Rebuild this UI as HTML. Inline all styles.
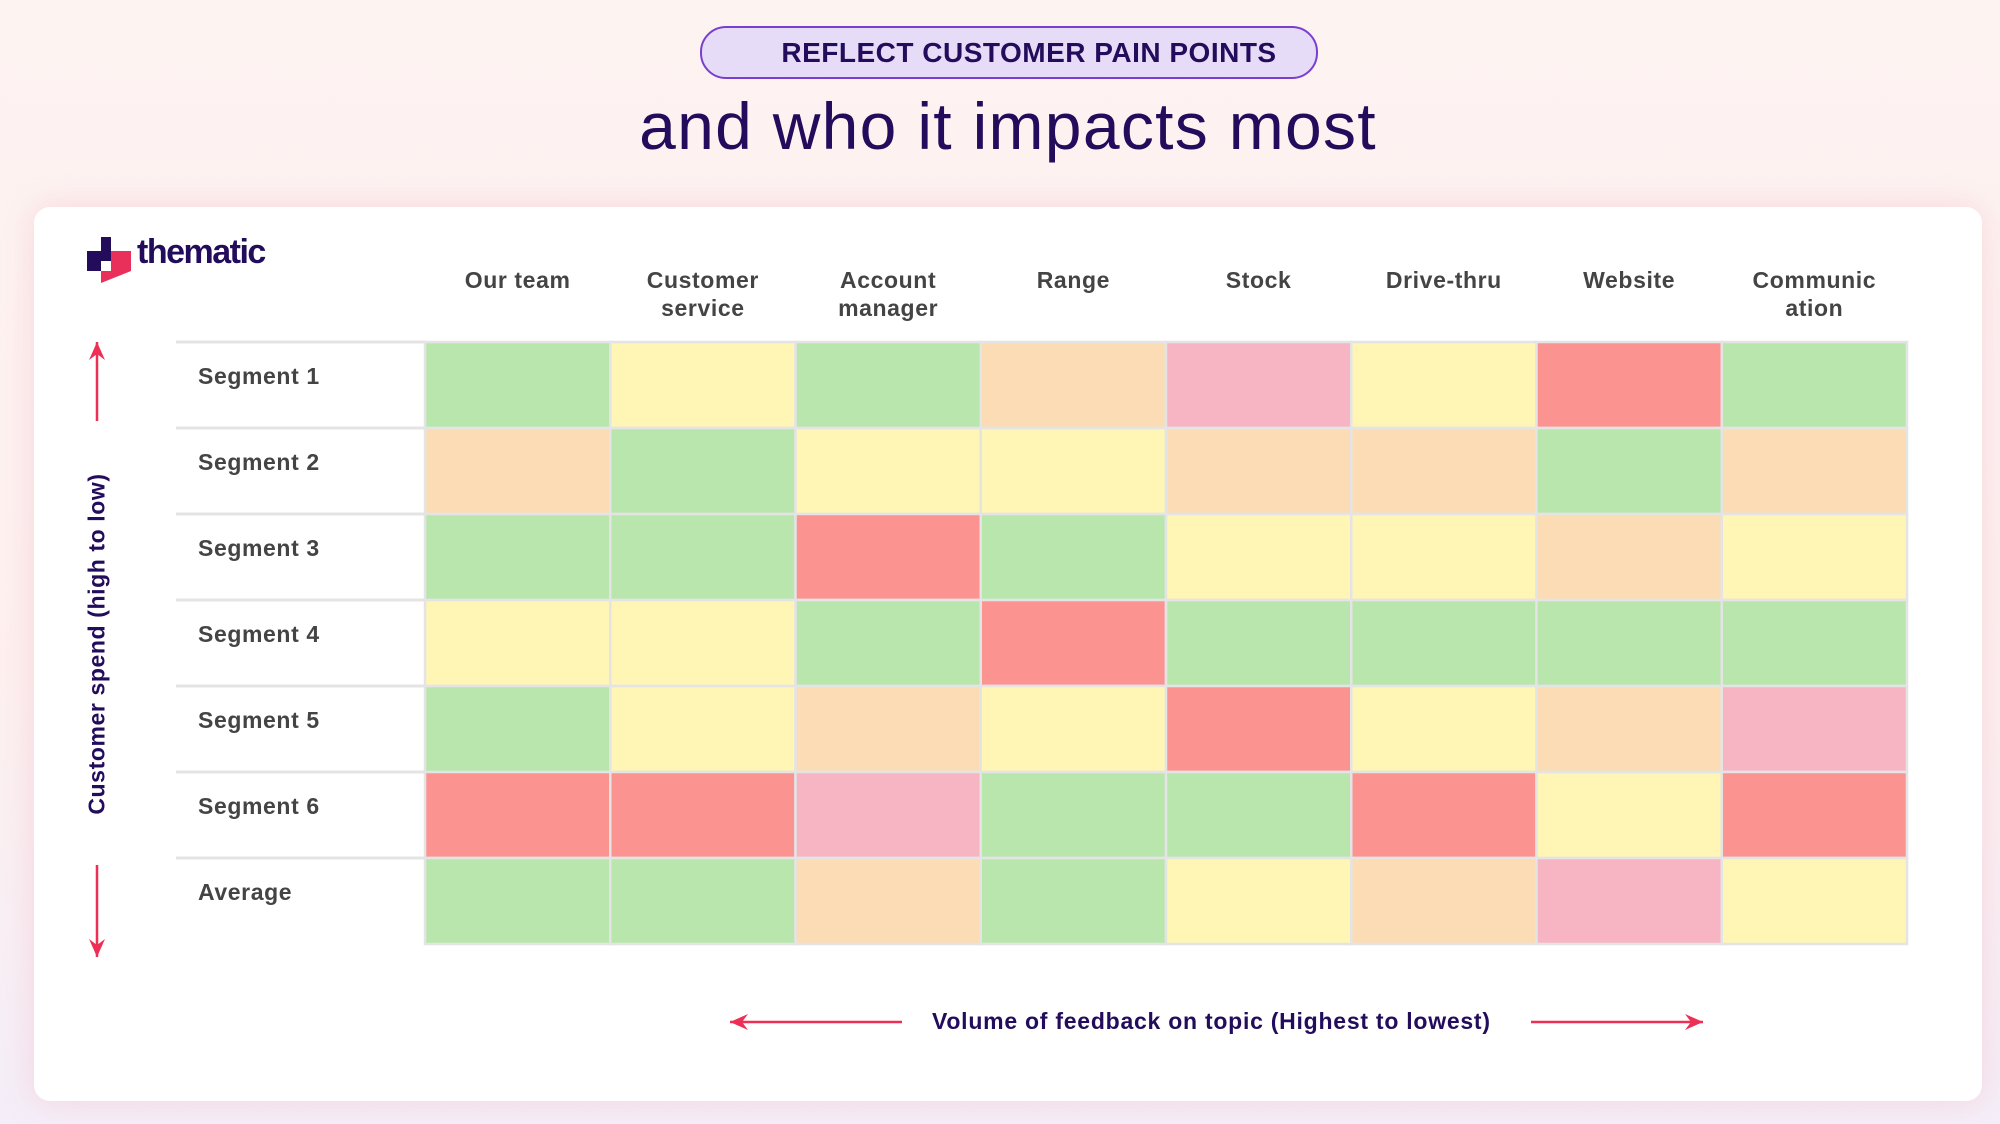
<!DOCTYPE html>
<html><head><meta charset="utf-8"><style>
html,body{margin:0;padding:0}
body{width:2000px;height:1124px;position:relative;overflow:hidden;font-family:"Liberation Sans",sans-serif;background:linear-gradient(180deg,#fdf3f1 0%,#fdf0ef 60%,#f4eef8 100%)}
.pill{position:absolute;left:700px;top:26px;width:614px;height:49px;border:2px solid #7a3fd0;border-radius:26px;background:#e6dcf7;color:#230c5c;font-weight:bold;font-size:28px;text-align:center;line-height:49px;letter-spacing:0.5px;box-sizing:content-box}
.pill span{position:relative;left:20px}
.head{position:absolute;left:0;width:2016px;top:88px;text-align:center;font-size:66px;color:#230c5c;letter-spacing:1.3px}
.card{position:absolute;left:34px;top:207px;width:1948px;height:894px;background:#fff;border-radius:16px;box-shadow:0 0 30px rgba(245,180,195,0.45)}
.logo{position:absolute;left:87px;top:237px}
.logo span{position:absolute;left:50px;top:-4px;font-size:34px;font-weight:bold;color:#230c5c;letter-spacing:-1.5px}
.ylab{position:absolute;left:97px;top:644px;transform:translate(-50%,-50%) rotate(-90deg);font-size:23px;font-weight:bold;color:#230c5c;white-space:nowrap;letter-spacing:0.6px}
.xlab{position:absolute;left:932px;top:1008px;font-size:23px;font-weight:bold;color:#230c5c;white-space:nowrap;letter-spacing:0.75px}
</style></head><body>
<div class="pill"><span>REFLECT CUSTOMER PAIN POINTS</span></div>
<div class="head">and who it impacts most</div>
<div class="card"></div>
<div class="logo">
<svg width="46" height="48" viewBox="0 0 46 48"><polygon points="0,14 14,14 14,0 24,0 24,14 24,24 14,24 14,34 0,34" fill="#230c5c"/><polygon points="24,14 44,14 44,34 14,46 14,34 24,34" fill="#e8305a"/><rect x="14" y="24" width="10" height="10" fill="#fff"/></svg>
<span>thematic</span></div>
<svg id="chart" width="2000" height="1124" style="position:absolute;left:0;top:0"></svg>
<div class="ylab">Customer spend (high to low)</div>
<div class="xlab">Volume of feedback on topic (Highest to lowest)</div>
<script>
const topics=["Our team","Customer service","Account manager","Range","Stock","Drive-thru","Website","Communication"];
const topicLines=[["Our team"],["Customer","service"],["Account","manager"],["Range"],["Stock"],["Drive-thru"],["Website"],["Communic","ation"]];
const segments=["Segment 1","Segment 2","Segment 3","Segment 4","Segment 5","Segment 6","Average"];
// severity: 0 green,1 yellow,2 orange,3 pink,4 red
const seg1=[0,1,0,2,3,1,4,0];
const seg2=[2,0,1,1,2,2,0,2];
const seg3=[0,0,4,0,1,1,2,1];
const seg4=[1,1,0,4,0,0,0,0];
const seg5=[0,1,2,1,4,1,2,3];
const seg6=[4,4,3,0,0,4,1,4];
const average=[0,0,2,0,1,2,3,1];
const rows=[seg1,seg2,seg3,seg4,seg5,seg6,average];
const palette=["#b8e6ac","#fff5b5","#fcdcb4","#f7b5c3","#fb9490"];
const NS="http://www.w3.org/2000/svg";
const svg=document.getElementById('chart');
const gx0=425,gw=1482,gy0=342,gh=602,lx=176;
const cw=gw/topics.length,rh=gh/segments.length;
const xS=i=>gx0+i*cw, yS=j=>gy0+j*rh;
function mk(t,a){const e=document.createElementNS(NS,t);for(const k in a)e.setAttribute(k,a[k]);svg.appendChild(e);return e;}
rows.forEach((r,j)=>{
  const l=mk('line',{x1:lx,x2:gx0,y1:yS(j),y2:yS(j),stroke:'#e4e4e4','stroke-width':3});
  
  
  const t=mk('text',{x:198,y:yS(j)+42,'font-size':23,'font-weight':'bold',fill:'#444','letter-spacing':0.6});
  t.textContent=segments[j];
  
  
  r.forEach((v,i)=>{
    const c=mk('rect',{x:xS(i),y:yS(j),width:cw,height:rh,fill:palette[v],stroke:'#e4e4e4','stroke-width':2.5});
    
    
  });
});
topicLines.forEach((ls,i)=>{
  ls.forEach((s,k)=>{
    const t=mk('text',{x:xS(i)+cw/2,y:288+k*28,'text-anchor':'middle','font-size':23,'font-weight':'bold',fill:'#444','letter-spacing':0.6});
    t.textContent=s;
    
    
  });
});
function arrow(x1,y1,x2,y2,name){
  const l=mk('line',{x1,y1,x2,y2,stroke:'#ee2f55','stroke-width':2.5});
  
  
  const dx=x2-x1,dy=y2-y1,L=Math.hypot(dx,dy),ux=dx/L,uy=dy/L,px=-uy,py=ux;
  const p=mk('polygon',{points:`${x2},${y2} ${x2-ux*18+px*8},${y2-uy*18+py*8} ${x2-ux*12},${y2-uy*12} ${x2-ux*18-px*8},${y2-uy*18-py*8}`,fill:'#ee2f55'});
  
  
}
arrow(97,421,97,342,'up-arrow');
arrow(97,865,97,957,'down-arrow');
arrow(902,1022,730,1022,'left-arrow');
arrow(1531,1022,1703,1022,'right-arrow');
</script>
</body></html>
